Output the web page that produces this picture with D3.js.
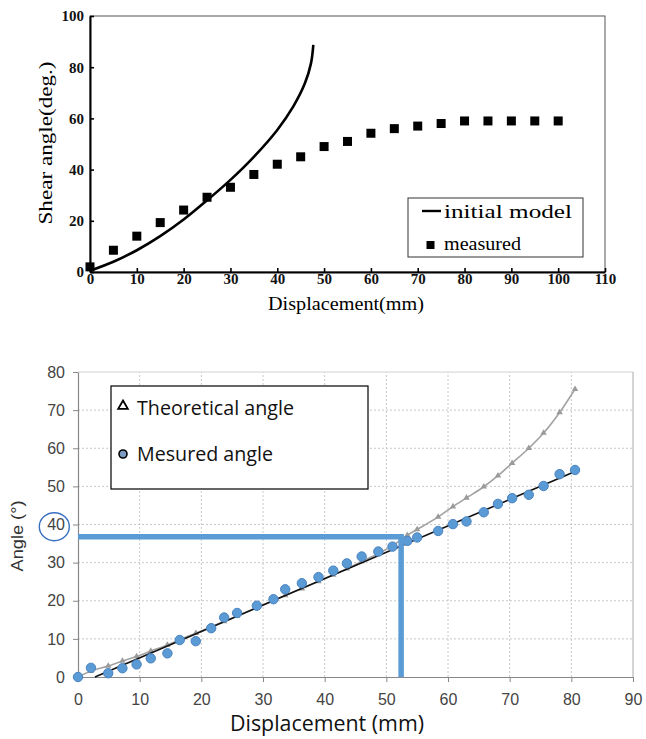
<!DOCTYPE html>
<html><head><meta charset="utf-8">
<script src="https://cdn.jsdelivr.net/npm/d3@7"></script>
<style>html,body{margin:0;padding:0;background:#fff;}svg{display:block;}</style>
</head><body>
<svg id="c" width="646" height="739"></svg>
<script>
// ---------- Top chart data ----------
const topTicksX = [0,10,20,30,40,50,60,70,80,90,100,110];
const topTicksY = [0,20,40,60,80,100];
const modelX = [0,5,10,15,20,25,30,35,40,43.4,45.9,47.2,47.7];
const modelY = [0.5,4,8.5,14,20.5,28,36,45,55.5,64.6,73.7,81.5,88.7];
const measX  = [0,5,10,15,20,25,30,35,40,45,50,55,60,65,70,75,80,85,90,95,100];
const measY  = [2,8.5,14,19.3,24.2,29.2,33.1,38.1,42.1,45,49,51,54.2,56,57,58,59,59,59,59,59];
const topLegend = ["initial model","measured"];

// ---------- Bottom chart data ----------
const botTicksX = [0,10,20,30,40,50,60,70,80,90];
const botTicksY = [0,10,20,30,40,50,60,70,80];
const angX = [0,2.1,4.9,7.2,9.5,11.8,14.5,16.5,19.1,21.6,23.7,25.8,29,31.7,33.6,36.3,39,41.4,43.6,46,48.7,51,53.4,55,58.4,60.8,63,65.8,68.1,70.4,73.1,75.5,78.1,80.6];
const mesY = [0,2.4,1.0,2.3,3.3,4.9,6.2,9.7,9.4,12.8,15.6,16.8,18.7,20.4,23,24.6,26.2,27.9,29.8,31.6,32.9,34.2,35.7,36.6,38.3,40.1,40.8,43.2,45.4,46.9,47.8,50.1,53.2,54.3];
const theoY = [0,1.6,2.9,4.2,5.4,6.8,8.4,9.8,11.5,13.2,14.6,16.0,18.2,20.0,21.4,23.2,25.1,26.8,28.4,30.3,32.4,34.4,37.2,38.7,42.0,44.7,47.0,49.9,52.8,56.1,60.0,64.0,69.4,75.5];
const fitX = [2.75,80.6];
const fitY = [0,53.9];
const markX = 52.4, markY = 36.8;
const botLegend = ["Theoretical angle","Mesured angle"];

const svg = d3.select("#c");

// ================= TOP CHART =================
const xT = d3.scaleLinear().domain([0,110]).range([90,605]);
const yT = d3.scaleLinear().domain([0,100]).range([272,16]);
const gT = svg.append("g");
const serif = "'Liberation Serif','DejaVu Serif',serif";

gT.append("rect").attr("x",xT(0)).attr("y",yT(100)).attr("width",xT(110)-xT(0)).attr("height",yT(0)-yT(100))
  .attr("fill","none").attr("stroke","#555").attr("stroke-width",1);

const axB = gT.append("g").attr("transform",`translate(0,${yT(0)})`)
  .call(d3.axisBottom(xT).tickValues(topTicksX).tickSizeInner(-4).tickSizeOuter(0).tickPadding(9));
const axL = gT.append("g").attr("transform",`translate(${xT(0)},0)`)
  .call(d3.axisLeft(yT).tickValues(topTicksY).tickSizeInner(-4).tickSizeOuter(0).tickPadding(6));
[axB,axL].forEach(a=>{
  a.select(".domain").attr("stroke","#000").attr("stroke-width",2);
  a.selectAll(".tick line").attr("stroke","#000").attr("stroke-width",1.6);
  a.selectAll("text").attr("font-family",serif).attr("font-weight","bold").attr("font-size",15).attr("fill","#111");
});
axB.selectAll("text").attr("dy","0.2em");

const lineT = d3.line().x(i=>xT(modelX[i])).y(i=>yT(modelY[i])).curve(d3.curveCatmullRom.alpha(0.5));
gT.append("path").attr("d",lineT(d3.range(modelX.length))).attr("fill","none").attr("stroke","#000").attr("stroke-width",2.6);

gT.selectAll("rect.m").data(d3.range(measX.length)).join("rect").attr("class","m")
  .attr("x",i=>xT(measX[i])-4.5).attr("y",i=>yT(measY[i])-4.5).attr("width",9).attr("height",9).attr("fill","#000");

gT.append("rect").attr("x",408).attr("y",198).attr("width",175).attr("height",59).attr("fill","#fff").attr("stroke","#333").attr("stroke-width",1);
gT.append("line").attr("x1",422).attr("x2",441).attr("y1",211).attr("y2",211).attr("stroke","#000").attr("stroke-width",2.4);
gT.append("rect").attr("x",426.5).attr("y",241).attr("width",8).attr("height",8).attr("fill","#000");
gT.append("text").attr("x",444).attr("y",218).text(topLegend[0]).attr("font-family",serif).attr("font-size",19)
  .attr("textLength",128).attr("lengthAdjust","spacingAndGlyphs");
gT.append("text").attr("x",444).attr("y",250).text(topLegend[1]).attr("font-family",serif).attr("font-size",19)
  .attr("textLength",77).attr("lengthAdjust","spacingAndGlyphs");

gT.append("text").attr("x",346).attr("y",310).attr("text-anchor","middle").text("Displacement(mm)")
  .attr("font-family",serif).attr("font-size",18).attr("textLength",156).attr("lengthAdjust","spacingAndGlyphs");
gT.append("text").attr("transform","translate(52,143) rotate(-90)").attr("text-anchor","middle").text("Shear angle(deg.)")
  .attr("font-family",serif).attr("font-size",18).attr("textLength",163).attr("lengthAdjust","spacingAndGlyphs");

// ================= BOTTOM CHART =================
const xB = d3.scaleLinear().domain([0,90]).range([78,633]);
const yB = d3.scaleLinear().domain([0,80]).range([677,372]);
const gB = svg.append("g");
const sans = "'Liberation Sans',Arial,sans-serif";
const open = "'Open Sans','Noto Sans',sans-serif";

gB.selectAll("line.gx").data(botTicksX.filter(v=>v>0 && v<90)).join("line").attr("class","gx")
  .attr("x1",d=>xB(d)).attr("x2",d=>xB(d)).attr("y1",yB(0)).attr("y2",yB(80))
  .attr("stroke","#c8c8c8").attr("stroke-dasharray","2,2");
gB.selectAll("line.gy").data(botTicksY.filter(v=>v>0 && v<80)).join("line").attr("class","gy")
  .attr("x1",xB(0)).attr("x2",xB(90)).attr("y1",d=>yB(d)).attr("y2",d=>yB(d))
  .attr("stroke","#c8c8c8").attr("stroke-dasharray","2,2");
gB.append("line").attr("x1",xB(0)).attr("x2",xB(90)).attr("y1",yB(80)).attr("y2",yB(80)).attr("stroke","#d0d0d0");
gB.append("line").attr("x1",xB(90)).attr("x2",xB(90)).attr("y1",yB(80)).attr("y2",yB(0)).attr("stroke","#aaa");

const bx = gB.append("g").attr("transform",`translate(0,${yB(0)})`)
  .call(d3.axisBottom(xB).tickValues(botTicksX).tickSizeInner(5).tickSizeOuter(0).tickPadding(12));
const by = gB.append("g").attr("transform",`translate(${xB(0)},0)`)
  .call(d3.axisLeft(yB).tickValues(botTicksY).tickSizeInner(5).tickSizeOuter(0).tickPadding(8));
[bx,by].forEach(a=>{
  a.select(".domain").attr("stroke","#888").attr("stroke-width",1.2);
  a.selectAll(".tick line").attr("stroke","#888");
  a.selectAll("text").attr("font-family",sans).attr("font-size",16).attr("fill","#444");
});

const lineTh = d3.line().x(i=>xB(angX[i])).y(i=>yB(theoY[i])).curve(d3.curveMonotoneX);
gB.append("path").attr("d",lineTh(d3.range(angX.length))).attr("fill","none").attr("stroke","#a2a2a2").attr("stroke-width",1.6);
gB.selectAll("path.tri").data(d3.range(angX.length)).join("path").attr("class","tri")
  .attr("d",d3.symbol(d3.symbolTriangle,18)())
  .attr("transform",i=>`translate(${xB(angX[i])},${yB(theoY[i])})`).attr("fill","#9a9a9a");

gB.append("line").attr("x1",xB(fitX[0])).attr("y1",yB(fitY[0])).attr("x2",xB(fitX[1])).attr("y2",yB(fitY[1]))
  .attr("stroke","#111").attr("stroke-width",1.6);

gB.selectAll("circle.mc").data(d3.range(angX.length)).join("circle").attr("class","mc")
  .attr("cx",i=>xB(angX[i])).attr("cy",i=>yB(mesY[i])).attr("r",4.7)
  .attr("fill","#5b9bd5").attr("stroke","#4a83c0").attr("stroke-width",1);

gB.append("path")
  .attr("d",`M${xB(0)},${yB(markY)}H${xB(markX)}V${yB(0)}`)
  .attr("fill","none").attr("stroke","#5b9bd5").attr("stroke-width",5.5).attr("stroke-linejoin","miter");

gB.append("ellipse").attr("cx",54.3).attr("cy",526.7).attr("rx",15).attr("ry",14)
  .attr("fill","none").attr("stroke","#3a70c0").attr("stroke-width",1.4);

gB.append("rect").attr("x",111).attr("y",386).attr("width",257).attr("height",103).attr("fill","#fff").attr("stroke","#000").attr("stroke-width",1.2);
gB.append("path").attr("d",d3.symbol(d3.symbolTriangle,40)()).attr("transform","translate(123,406)")
  .attr("fill","#fff").attr("stroke","#000").attr("stroke-width",1.8);
gB.append("circle").attr("cx",123).attr("cy",454).attr("r",4).attr("fill","#7d9cc4").attr("stroke","#000").attr("stroke-width",1.6);
gB.append("text").attr("x",137).attr("y",415).text(botLegend[0]).attr("font-family",open).attr("font-size",20).attr("fill","#111")
  .attr("textLength",157).attr("lengthAdjust","spacingAndGlyphs");
gB.append("text").attr("x",137).attr("y",461).text(botLegend[1]).attr("font-family",open).attr("font-size",20).attr("fill","#111")
  .attr("textLength",136).attr("lengthAdjust","spacingAndGlyphs");

gB.append("text").attr("x",230).attr("y",731).text("Displacement (mm)").attr("font-family",open).attr("font-size",21).attr("fill","#111")
  .attr("textLength",194).attr("lengthAdjust","spacingAndGlyphs");
gB.append("text").attr("transform","translate(23,536) rotate(-90)").attr("text-anchor","middle").text("Angle (°)")
  .attr("font-family",sans).attr("font-size",17).attr("fill","#333").attr("textLength",71).attr("lengthAdjust","spacingAndGlyphs");
</script>
</body></html>
